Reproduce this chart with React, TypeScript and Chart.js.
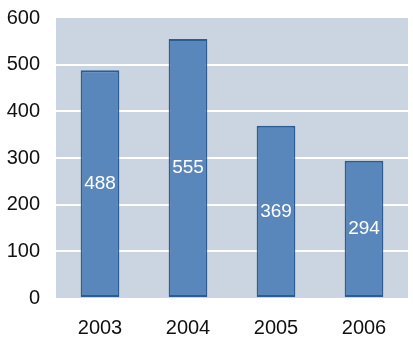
import React, { useEffect, useRef } from "react";
import { Chart, registerables } from "chart.js";

Chart.register(...registerables);

const categories = ["2003", "2004", "2005", "2006"];
const values = [488, 555, 369, 294];
const yMin = 0;
const yMax = 600;
const yStep = 100;

const FONT = "'Liberation Sans', Arial, sans-serif";

const bgPlugin = {
  id: "plotBg",
  beforeDraw(chart: any) {
    const { ctx, chartArea } = chart;
    ctx.save();
    ctx.fillStyle = "#cbd5e1";
    ctx.fillRect(chartArea.left, chartArea.top, chartArea.right - chartArea.left, chartArea.bottom - chartArea.top);
    ctx.restore();
  },
};

const labelPlugin = {
  id: "barLabels",
  afterDatasetsDraw(chart: any) {
    const { ctx } = chart;
    const meta = chart.getDatasetMeta(0);
    ctx.save();
    ctx.fillStyle = "#ffffff";
    ctx.font = `19px ${FONT}`;
    ctx.textAlign = "center";
    ctx.textBaseline = "middle";
    meta.data.forEach((el: any, i: number) => {
      const p = el.getProps(["x", "y", "base"], true);
      ctx.fillText(String(values[i]), p.x, (p.y + p.base) / 2);
    });
    ctx.restore();
  },
};

export default function App() {
  const ref = useRef<HTMLCanvasElement>(null);
  useEffect(() => {
    const chart = new Chart(ref.current!, {
      type: "bar",
      data: {
        labels: categories,
        datasets: [
          {
            data: values,
            backgroundColor: "#5a87bb",
            borderColor: "#2c5c93",
            borderWidth: 2,
            borderSkipped: false,
            barPercentage: 0.44,
            categoryPercentage: 1,
          },
        ],
      },
      options: {
        responsive: false,
        animation: false,
        layout: { padding: { top: 18, right: 5, left: 0, bottom: 0 } },
        plugins: { legend: { display: false }, tooltip: { enabled: false } },
        scales: {
          x: {
            grid: { display: false, drawTicks: false },
            border: { display: false },
            ticks: { color: "#111", font: { family: FONT, size: 20 }, padding: 18 },
            afterFit(scale: any) {
              scale.height = 41;
              scale.paddingLeft = 0;
              scale.paddingRight = 0;
            },
          },
          y: {
            min: yMin,
            max: yMax,
            grid: {
              drawTicks: false,
              lineWidth: 2,
              color: (c: any) => (c.tick && (c.tick.value === yMin || c.tick.value === yMax) ? "rgba(0,0,0,0)" : "#ffffff"),
            },
            border: { display: false },
            ticks: { stepSize: yStep, color: "#111", font: { family: FONT, size: 20 }, padding: 16 },
            afterFit(scale: any) {
              scale.width = 56;
              scale.paddingTop = 0;
              scale.paddingBottom = 0;
            },
          },
        },
      },
      plugins: [bgPlugin, labelPlugin],
    });
    return () => chart.destroy();
  }, []);
  return (
    <div style={{ position: "fixed", left: 0, top: 0, width: 413, height: 339, background: "#fff" }}>
      <canvas ref={ref} width={413} height={339} />
    </div>
  );
}
